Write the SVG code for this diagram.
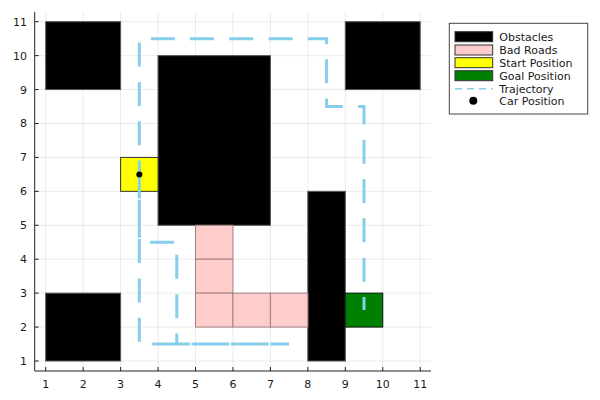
<svg xmlns="http://www.w3.org/2000/svg" width="600" height="400" viewBox="0 0 600 400">
<style>
text{font-family:"DejaVu Sans","Liberation Sans",sans-serif;fill:#1a1a1a}
.tick{font-size:11px}
.grid line{stroke:#000;stroke-opacity:0.08;stroke-width:1}
.axis{stroke:#222;stroke-width:1;fill:none}
.obs{fill:#000;stroke:#555;stroke-width:1}
.bad{fill:#ffcccc;stroke:#a08080;stroke-width:1}
.leg{font-size:11px}
</style>
<rect width="600" height="400" fill="#fff"/>
<g class="grid">
<line x1="45.7" y1="12" x2="45.7" y2="371"/><line x1="83.15" y1="12" x2="83.15" y2="371"/><line x1="120.6" y1="12" x2="120.6" y2="371"/><line x1="158.05" y1="12" x2="158.05" y2="371"/><line x1="195.5" y1="12" x2="195.5" y2="371"/><line x1="232.95" y1="12" x2="232.95" y2="371"/><line x1="270.4" y1="12" x2="270.4" y2="371"/><line x1="307.85" y1="12" x2="307.85" y2="371"/><line x1="345.3" y1="12" x2="345.3" y2="371"/><line x1="382.75" y1="12" x2="382.75" y2="371"/><line x1="420.2" y1="12" x2="420.2" y2="371"/>
<line x1="34.7" y1="361" x2="431" y2="361"/><line x1="34.7" y1="327.07" x2="431" y2="327.07"/><line x1="34.7" y1="293.14" x2="431" y2="293.14"/><line x1="34.7" y1="259.21" x2="431" y2="259.21"/><line x1="34.7" y1="225.28" x2="431" y2="225.28"/><line x1="34.7" y1="191.35" x2="431" y2="191.35"/><line x1="34.7" y1="157.42" x2="431" y2="157.42"/><line x1="34.7" y1="123.49" x2="431" y2="123.49"/><line x1="34.7" y1="89.56" x2="431" y2="89.56"/><line x1="34.7" y1="55.63" x2="431" y2="55.63"/><line x1="34.7" y1="21.7" x2="431" y2="21.7"/>
</g>
<g id="axes">
<path class="axis" d="M34.7,12 V371 H431"/>
<path class="axis" d="M45.7,371v-4M83.15,371v-4M120.6,371v-4M158.05,371v-4M195.5,371v-4M232.95,371v-4M270.4,371v-4M307.85,371v-4M345.3,371v-4M382.75,371v-4M420.2,371v-4"/>
<path class="axis" d="M34.7,361h4M34.7,327.07h4M34.7,293.14h4M34.7,259.21h4M34.7,225.28h4M34.7,191.35h4M34.7,157.42h4M34.7,123.49h4M34.7,89.56h4M34.7,55.63h4M34.7,21.7h4"/>
<g class="tick" text-anchor="middle">
<text x="45.7" y="387.5">1</text><text x="83.15" y="387.5">2</text><text x="120.6" y="387.5">3</text><text x="158.05" y="387.5">4</text><text x="195.5" y="387.5">5</text><text x="232.95" y="387.5">6</text><text x="270.4" y="387.5">7</text><text x="307.85" y="387.5">8</text><text x="345.3" y="387.5">9</text><text x="382.75" y="387.5">10</text><text x="420.2" y="387.5">11</text>
</g>
<g class="tick" text-anchor="end">
<text x="27" y="365">1</text><text x="27" y="331.07">2</text><text x="27" y="297.14">3</text><text x="27" y="263.21">4</text><text x="27" y="229.28">5</text><text x="27" y="195.35">6</text><text x="27" y="161.42">7</text><text x="27" y="127.49">8</text><text x="27" y="93.56">9</text><text x="27" y="59.63">10</text><text x="27" y="25.7">11</text>
</g>
</g>
<g id="obstacles">
<rect class="obs" x="45.7" y="21.7" width="74.9" height="67.86"/>
<rect class="obs" x="345.3" y="21.7" width="74.9" height="67.86"/>
<rect class="obs" x="158.05" y="55.63" width="112.35" height="169.65"/>
<rect class="obs" x="307.85" y="191.35" width="37.45" height="169.65"/>
<rect class="obs" x="45.7" y="293.14" width="74.9" height="67.86"/>
</g>
<g id="bad-roads">
<rect class="bad" x="195.5" y="225.28" width="37.45" height="33.93"/>
<rect class="bad" x="195.5" y="259.21" width="37.45" height="33.93"/>
<rect class="bad" x="195.5" y="293.14" width="37.45" height="33.93"/>
<rect class="bad" x="232.95" y="293.14" width="37.45" height="33.93"/>
<rect class="bad" x="270.4" y="293.14" width="37.45" height="33.93"/>
</g>
<g id="start">
<rect x="120.6" y="157.42" width="37.45" height="33.93" fill="#ffff00" stroke="#333" stroke-width="1"/>
</g>
<g id="goal">
<rect x="345.3" y="293.14" width="37.45" height="33.93" fill="#008000" stroke="#111" stroke-width="1"/>
</g>
<g id="connectors">
<path d="M139.33,174.39 L139.33,242.25 L176.78,242.25 L176.78,344.04 L289.13,344.04 L139.33,344.04 L139.33,38.67 L326.58,38.67 L326.58,106.53 L364.03,106.53 L364.03,310.11" fill="none" stroke="#87ceeb" stroke-width="3" stroke-dasharray="24 15.3" stroke-linejoin="miter"/>
</g>
<g id="car">
<circle cx="139.33" cy="174.39" r="3" fill="#000"/>
</g>
<g id="legend">
<rect x="449.3" y="23.3" width="138.4" height="90.7" fill="#fff" stroke="#444" stroke-width="1"/>
<rect x="455" y="31.7" width="37.7" height="10" fill="#000" stroke="#333"/>
<rect x="455" y="45" width="37.7" height="10" fill="#ffcccc" stroke="#333"/>
<rect x="455" y="57.7" width="37.7" height="10" fill="#ffff00" stroke="#333"/>
<rect x="455" y="70.7" width="37.7" height="10" fill="#008000" stroke="#333"/>
<line x1="455" y1="88.7" x2="492.7" y2="88.7" stroke="#87ceeb" stroke-width="1.5" stroke-dasharray="7 5"/>
<circle cx="473.3" cy="100.7" r="4" fill="#000"/>
<g class="leg">
<text x="499.3" y="40.7">Obstacles</text>
<text x="499.3" y="54">Bad Roads</text>
<text x="499.3" y="66.7">Start Position</text>
<text x="499.3" y="79.7">Goal Position</text>
<text x="499.3" y="92.5">Trajectory</text>
<text x="499.3" y="104.9">Car Position</text>
</g>
</g>
</svg>
